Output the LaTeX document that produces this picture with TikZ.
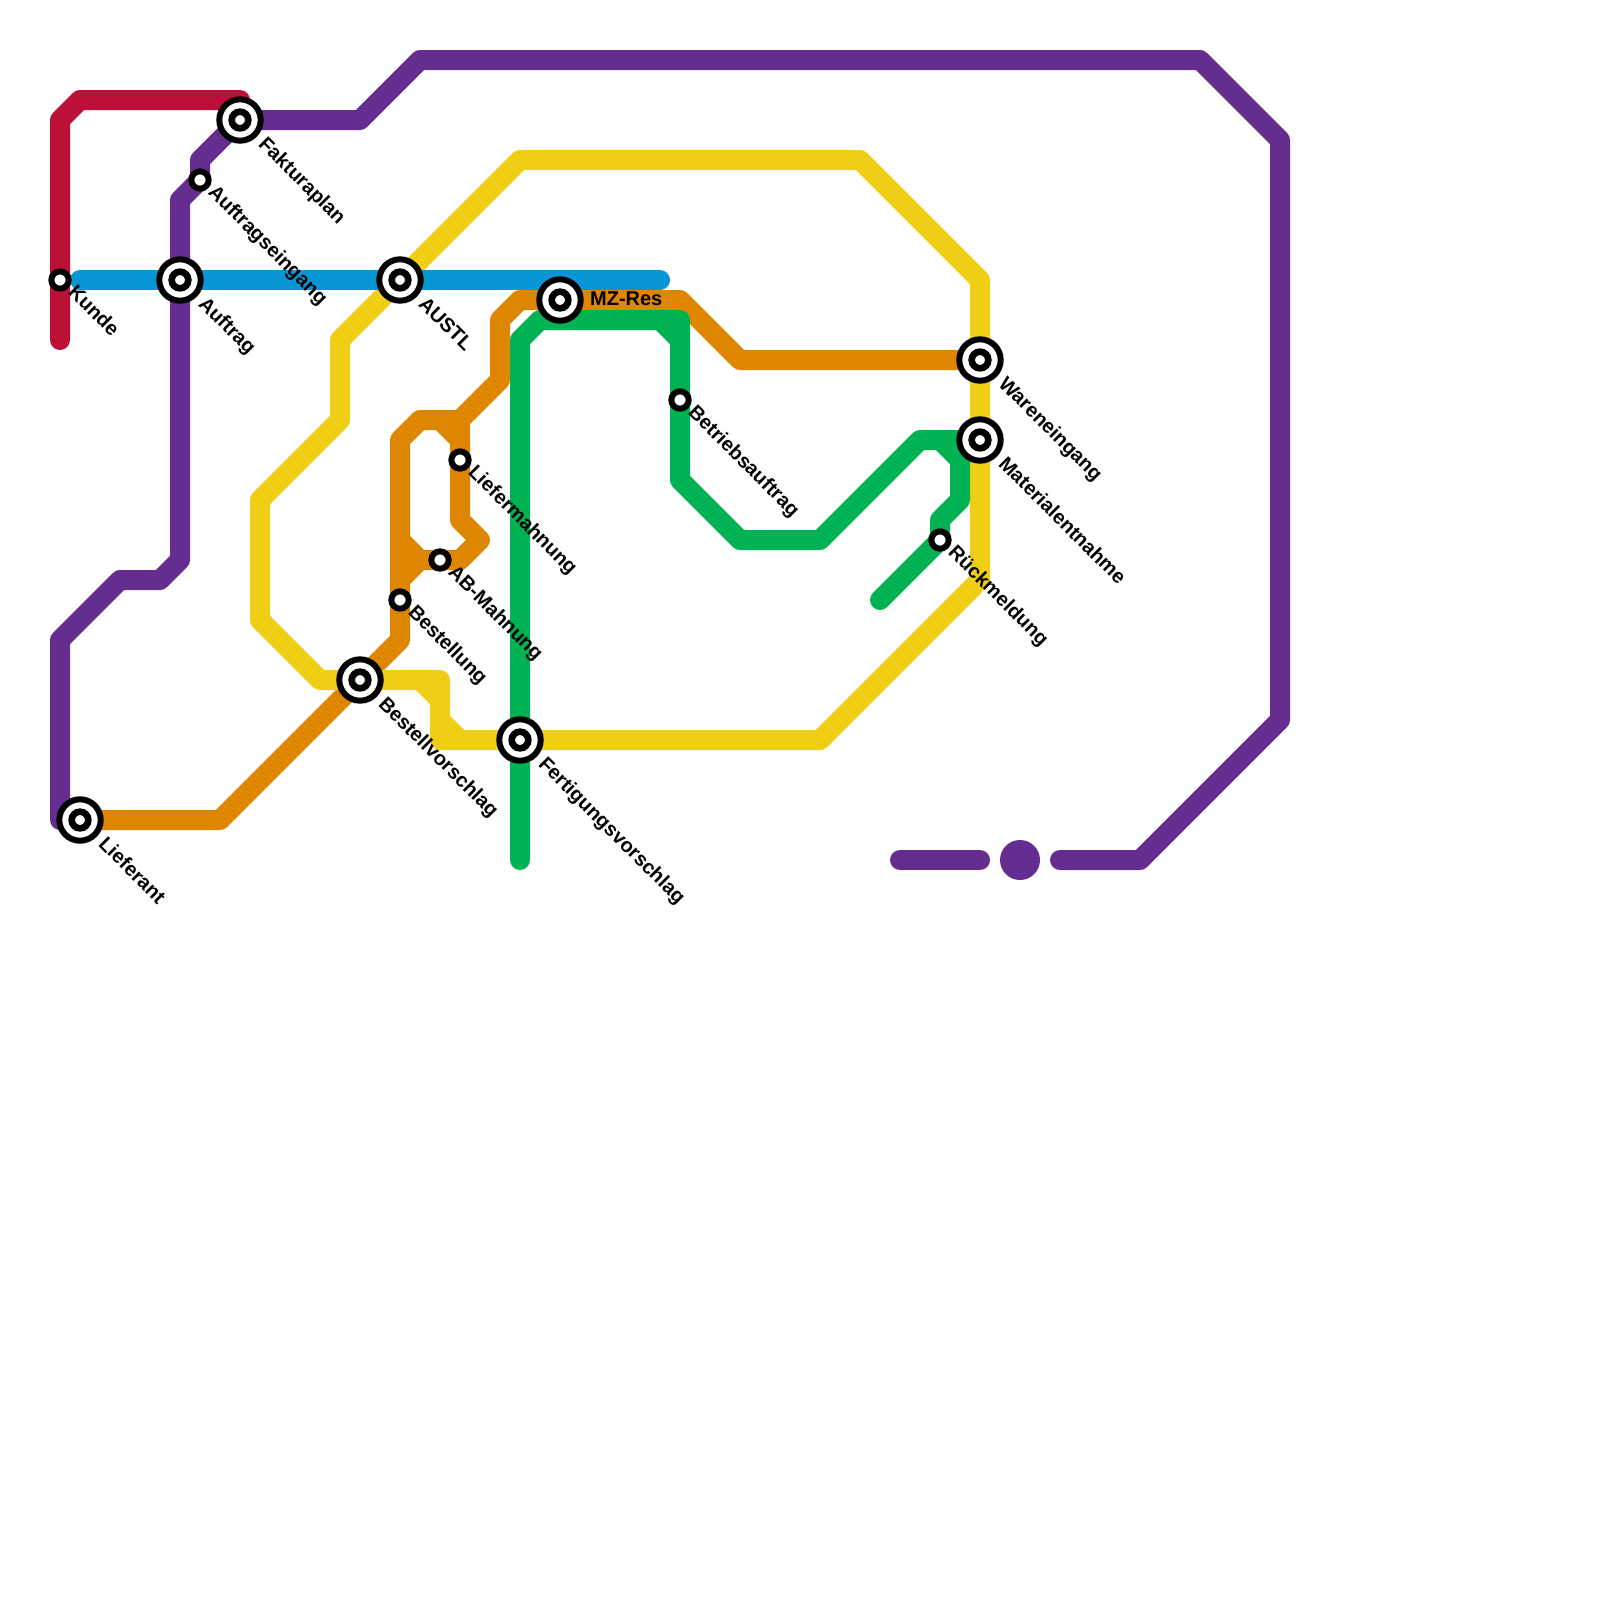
\documentclass[tikz,border=0pt]{standalone}
\usepackage{fontspec}
\setmainfont{Liberation Sans}
\usepackage{xcolor}
\usetikzlibrary{
  backgrounds
}
\definecolor{linered}{HTML}{BD1038}
\definecolor{lineblue}{HTML}{0896D7}
\definecolor{linepurple}{HTML}{662D91}
\definecolor{lineorange}{HTML}{DF8600}
\definecolor{lineyellow}{HTML}{F0CE15}
\definecolor{linegreen}{HTML}{00B251}
\tikzset{
  metroline/.style={
    line width=1cm,
    line cap=round,
    line join=round,
  },
  smallstop/.style={
    circle,
    draw=black,
    fill=white,
    line width=0.3cm,
    minimum size=0.8667cm,
    inner sep=0pt,
    outer sep=0pt,
  },
  bigstop/.style={
    circle,
    draw=black,
    fill=white,
    line width=0.3cm,
    minimum size=2.07cm,
    inner sep=0pt,
    outer sep=0pt,
    path picture={
      \draw[black, line width=0.3333cm] (path picture bounding box.center) circle (0.4167);
    },
  },
  stoplbl/.style={
    font=\fontsize{28.45}{34}\selectfont\bfseries,
    inner sep=0pt,
    anchor=base west,
    text=black,
  },
  biglbl/.style={
    stoplbl,
    shift={(0.88,1.25)},
    rotate=-45,
  },
  smalllbl/.style={
    stoplbl,
    shift={(0.36,0.66)},
    rotate=-45,
  },
}
\begin{document}
\begin{tikzpicture}[
  x=1cm, y=-1cm,
]
  \useasboundingbox (0,0) rectangle (80,80);

  % --- Stops ---
  \node[smallstop] (kunde) at (3,14) {};
  \node[bigstop] (auftrag) at (9,14) {};
  \node[bigstop] (fakturaplan) at (12,6) {};
  \node[smallstop] (eingang) at (10,9) {};
  \node[bigstop] (austl) at (20,14) {};
  \node[bigstop] (mzres) at (28,15) {};
  \node[smallstop] (liefermahn) at (23,23) {};
  \node[smallstop] (abmahn) at (22,28) {};
  \node[smallstop] (bestellung) at (20,30) {};
  \node[bigstop] (vorschlag) at (18,34) {};
  \node[bigstop] (fertigung) at (26,37) {};
  \node[smallstop] (betrieb) at (34,20) {};
  \node[bigstop] (waren) at (49,18) {};
  \node[bigstop] (material) at (49,22) {};
  \node[smallstop] (rueck) at (47,27) {};
  \node[bigstop] (lieferant) at (4,41) {};

  % --- Stop labels ---
  \node[smalllbl] (kundelbl) at (kunde) {Kunde};
  \node[biglbl] (auftraglbl) at (auftrag) {Auftrag};
  \node[biglbl] (fakturalbl) at (fakturaplan) {Fakturaplan};
  \node[smalllbl] (eingangllbl) at (eingang) {Auftragseingang};
  \node[biglbl] (austllbl) at (austl) {AUSTL};
  \node[stoplbl, shift={(1.5,0.27)}] (mzreslbl) at (mzres) {MZ-Res};
  \node[smalllbl] (mahnlbl) at (liefermahn) {Liefermahnung};
  \node[smalllbl] (ablbl) at (abmahn) {AB-Mahnung};
  \node[smalllbl] (bestelllbl) at (bestellung) {Bestellung};
  \node[biglbl] (vorschlaglbl) at (vorschlag) {Bestellvorschlag};
  \node[biglbl] (fertigunglbl) at (fertigung) {Fertigungsvorschlag};
  \node[smalllbl] (betrieblbl) at (betrieb) {Betriebsauftrag};
  \node[biglbl] (warenlbl) at (waren) {Wareneingang};
  \node[biglbl] (materiallbl) at (material) {Materialentnahme};
  \node[smalllbl] (ruecklbl) at (rueck) {Rückmeldung};
  \node[biglbl] (lieferantlbl) at (lieferant) {Lieferant};

  % --- Free line ends ---
  \coordinate (redend) at (3,17);
  \coordinate (blueleft) at (4,14);
  \coordinate (blueright) at (33,14);
  \coordinate (greenbottom) at (26,43);
  \coordinate (greentail) at (44,30);
  \coordinate (purpleright) at (53,43);
  \coordinate (stubleft) at (45,43);
  \coordinate (stubright) at (49,43);
  \node[circle, fill=linepurple, minimum size=2cm, inner sep=0pt, outer sep=0pt] (purpledot) at (51,43) {};

  \begin{scope}[on background layer]
    % --- Orange line ---
    \draw[metroline, lineorange] (lieferant.center) -- (11,41) -- (vorschlag.center) -- (20,32)
      -- (bestellung.center) -- (20,22) -- (21,21) -- (23,21) -- (25,19) -- (25,16) -- (26,15)
      -- (mzres.center) -- (34,15) -- (37,18) -- (waren.center);
    \draw[metroline, lineorange] (22,21) -- (23,22) -- (liefermahn.center) -- (23,26) -- (24,27)
      -- (23,28) -- (abmahn.center) -- (21,28) -- (20,27);
    \draw[metroline, lineorange] (23,21) -- (liefermahn.center);
    \draw[metroline, lineorange] (20,29) -- (21,28);

    % --- Yellow line ---
    \draw[metroline, lineyellow] (fertigung.center) -- (41,37) -- (49,29) -- (material.center)
      -- (waren.center) -- (49,14) -- (43,8) -- (26,8) -- (austl.center) -- (17,17) -- (17,21)
      -- (13,25) -- (13,31) -- (16,34) -- (vorschlag.center) -- (22,34) -- (22,37) -- (fertigung.center);
    \draw[metroline, lineyellow] (21,34) -- (22,35);
    \draw[metroline, lineyellow] (22,36) -- (23,37);

    % --- Green line ---
    \draw[metroline, linegreen] (greenbottom) -- (fertigung.center) -- (26,17) -- (27,16) -- (34,16)
      -- (betrieb.center) -- (34,24) -- (37,27) -- (41,27) -- (46,22) -- (material.center);
    \draw[metroline, linegreen] (33,16) -- (34,17);
    \draw[metroline, linegreen] (47,22) -- (48,23) -- (48,25) -- (47,26) -- (rueck.center) -- (greentail);

    % --- Red line ---
    \draw[metroline, linered] (redend) -- (kunde.center) -- (3,6) -- (4,5) -- (12,5) -- (fakturaplan.center);

    % --- Purple line ---
    \draw[metroline, linepurple] (lieferant.center) -- (3,41) -- (3,32) -- (6,29) -- (8,29) -- (9,28)
      -- (auftrag.center) -- (9,10) -- (eingang.center) -- (10,8) -- (fakturaplan.center) -- (18,6)
      -- (21,3) -- (60,3) -- (64,7) -- (64,36) -- (57,43) -- (purpleright);
    \draw[metroline, linepurple] (stubleft) -- (stubright);

    % --- Blue line ---
    \draw[metroline, lineblue] (blueleft) -- (auftrag.center) -- (austl.center) -- (blueright);
  \end{scope}
\end{tikzpicture}
\end{document}
